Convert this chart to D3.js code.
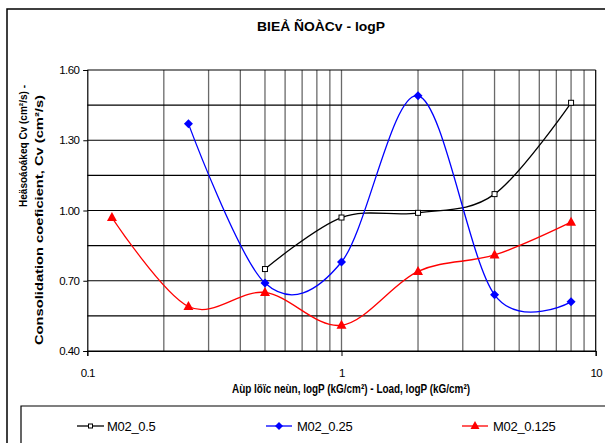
<!DOCTYPE html>
<html>
<head>
<meta charset="utf-8">
<script src="https://cdn.jsdelivr.net/npm/d3@7"></script>
<style>
  html, body { margin: 0; padding: 0; background: #fff; }
  svg { display: block; font-family: "Liberation Sans", Arial, sans-serif; }
</style>
</head>
<body>
<svg id="chart" width="605" height="443"></svg>
<script>
// Consolidation coefficient Cv versus load P (log scale)
const loadsBlack = [0.5, 1, 2, 4, 8];
const cvBlack    = [0.75, 0.97, 0.99, 1.07, 1.46];

const loadsBlue  = [0.25, 0.5, 1, 2, 4, 8];
const cvBlue     = [1.37, 0.69, 0.78, 1.49, 0.64, 0.61];

const loadsRed   = [0.125, 0.25, 0.5, 1, 2, 4, 8];
const cvRed      = [0.97, 0.59, 0.65, 0.51, 0.74, 0.81, 0.95];

const seriesNames = ["M02_0.5", "M02_0.25", "M02_0.125"];
const yTickValues = [0.40, 0.70, 1.00, 1.30, 1.60];
const yGridValues = [0.40, 0.55, 0.70, 0.85, 1.00, 1.15, 1.30, 1.45, 1.60];
const xTickValues = [0.1, 1, 10];

const svg = d3.select("#chart");

const plot = { left: 87.3, right: 595.7, top: 70, bottom: 351 };

const x = d3.scaleLog().domain([0.1, 10]).range([plot.left, plot.right]);
const y = d3.scaleLinear().domain([0.40, 1.60]).range([plot.bottom, plot.top]);

// outer chart frame (runs off the right and bottom edges)
svg.append("path")
  .attr("d", "M7,445 L7,9 L610,9")
  .attr("fill", "none").attr("stroke", "#000").attr("stroke-width", 1.5);

// title
svg.append("text")
  .attr("x", 321).attr("y", 31)
  .attr("text-anchor", "middle")
  .attr("font-weight", "bold").attr("font-size", 13)
  .attr("textLength", 128).attr("lengthAdjust", "spacingAndGlyphs")
  .text("BIEẢ ÑOÀCv - logP");

// vertical grid: every 1..9 of each decade
const minorX = [];
[0.1, 1].forEach(d => { for (let k = 2; k <= 9; k++) minorX.push(+(d * k).toFixed(3)); });
svg.append("g").selectAll("line").data(minorX).join("line")
  .attr("x1", d => x(d)).attr("x2", d => x(d))
  .attr("y1", plot.top).attr("y2", plot.bottom)
  .attr("stroke", "#6a6a6a").attr("stroke-width", 1.3);
svg.append("line")
  .attr("x1", x(1)).attr("x2", x(1)).attr("y1", plot.top).attr("y2", plot.bottom)
  .attr("stroke", "#6a6a6a").attr("stroke-width", 1.3);

// horizontal grid
svg.append("g").selectAll("line").data(yGridValues).join("line")
  .attr("x1", plot.left).attr("x2", plot.right)
  .attr("y1", d => y(d)).attr("y2", d => y(d))
  .attr("stroke", "#000").attr("stroke-width", 1.2);

// right border of the plot
svg.append("line")
  .attr("x1", plot.right).attr("x2", plot.right).attr("y1", plot.top).attr("y2", plot.bottom)
  .attr("stroke", "#000").attr("stroke-width", 1.2);

// axes
const yAxis = d3.axisLeft(y).tickValues(yTickValues).tickSize(4).tickPadding(4)
  .tickFormat(d3.format(".2f"));
const gy = svg.append("g").attr("transform", `translate(${plot.left},0)`).call(yAxis);
gy.select(".domain").attr("stroke", "#000").attr("stroke-width", 1.2);
gy.selectAll(".tick line").attr("stroke", "#000");
gy.selectAll(".tick text").attr("font-size", 11.5).attr("fill", "#000")
  .attr("font-family", "Liberation Sans, Arial, sans-serif").attr("letter-spacing", -0.6);

const xAxis = d3.axisBottom(x).tickValues(xTickValues).tickSize(5).tickPadding(13)
  .tickFormat(d3.format("~g"));
const gx = svg.append("g").attr("transform", `translate(0,${plot.bottom})`).call(xAxis);
gx.select(".domain").attr("stroke", "#000").attr("stroke-width", 1.2);
gx.selectAll(".tick line").attr("stroke", "#000");
gx.selectAll(".tick text").attr("font-size", 11.5).attr("fill", "#000")
  .attr("font-family", "Liberation Sans, Arial, sans-serif").attr("letter-spacing", -0.6);

// axis titles
svg.append("text")
  .attr("x", 351).attr("y", 393).attr("text-anchor", "middle")
  .attr("font-weight", "bold").attr("font-size", 12)
  .attr("textLength", 238).attr("lengthAdjust", "spacingAndGlyphs")
  .text("Aùp löïc neùn, logP (kG/cm²) - Load, logP (kG/cm²)");

svg.append("text")
  .attr("transform", "translate(27,146) rotate(-90)")
  .attr("text-anchor", "middle")
  .attr("font-weight", "bold").attr("font-size", 11.5)
  .attr("textLength", 122).attr("lengthAdjust", "spacingAndGlyphs")
  .text("Heäsoáoákeq  Cv (cm²/s) -");
svg.append("text")
  .attr("transform", "translate(43,220) rotate(-90)")
  .attr("text-anchor", "middle")
  .attr("font-weight", "bold").attr("font-size", 11)
  .attr("textLength", 250).attr("lengthAdjust", "spacingAndGlyphs")
  .text("Consolidation coeficient,  Cv (cm²/s)");

// series
const series = [
  { name: seriesNames[0], xs: loadsBlack, ys: cvBlack, color: "#000", marker: "square" },
  { name: seriesNames[1], xs: loadsBlue,  ys: cvBlue,  color: "#0000ff", marker: "diamond" },
  { name: seriesNames[2], xs: loadsRed,   ys: cvRed,   color: "#ff0000", marker: "triangle" }
];

const line = d3.line()
  .x(d => x(d[0])).y(d => y(d[1]))
  .curve(d3.curveCatmullRom.alpha(0));

function drawMarker(g, type, color) {
  if (type === "square") {
    g.append("rect").attr("x", -2.5).attr("y", -2.5).attr("width", 5).attr("height", 5)
      .attr("fill", "#fff").attr("stroke", color).attr("stroke-width", 1);
  } else if (type === "diamond") {
    g.append("path").attr("d", "M0,-4.5 L4.5,0 L0,4.5 L-4.5,0 Z").attr("fill", color);
  } else {
    g.append("path").attr("d", "M0,-5.5 L5,3.5 L-5,3.5 Z").attr("fill", color);
  }
}

series.forEach(s => {
  const pts = s.xs.map((v, i) => [v, s.ys[i]]);
  svg.append("path").datum(pts)
    .attr("d", line).attr("fill", "none")
    .attr("stroke", s.color).attr("stroke-width", 1.3);
  svg.append("g").selectAll("g").data(pts).join("g")
    .attr("transform", d => `translate(${x(d[0])},${y(d[1])})`)
    .each(function () { drawMarker(d3.select(this), s.marker, s.color); });
});

// legend box (runs off the right and bottom edges)
svg.append("path")
  .attr("d", "M21,445 L21,406 L610,406")
  .attr("fill", "none").attr("stroke", "#000").attr("stroke-width", 1.2);

const legendPos = [{ x0: 77, x1: 104, tx: 107 }, { x0: 266, x1: 292, tx: 297 }, { x0: 462, x1: 488, tx: 493 }];
series.forEach((s, i) => {
  const p = legendPos[i];
  const g = svg.append("g");
  g.append("line").attr("x1", p.x0).attr("x2", p.x1).attr("y1", 426).attr("y2", 426)
    .attr("stroke", s.color).attr("stroke-width", 1.3);
  const m = g.append("g").attr("transform", `translate(${(p.x0 + p.x1) / 2},426)`);
  if (s.marker === "square") {
    m.append("rect").attr("x", -2).attr("y", -2).attr("width", 4).attr("height", 4)
      .attr("fill", "#fff").attr("stroke", s.color);
  } else if (s.marker === "diamond") {
    m.append("path").attr("d", "M0,-4 L4,0 L0,4 L-4,0 Z").attr("fill", s.color);
  } else {
    m.append("path").attr("d", "M0,-5 L4.5,3 L-4.5,3 Z").attr("fill", s.color);
  }
  g.append("text").attr("x", p.tx).attr("y", 431)
    .attr("font-size", 13).attr("letter-spacing", -0.3).text(s.name);
});
</script>
</body>
</html>
